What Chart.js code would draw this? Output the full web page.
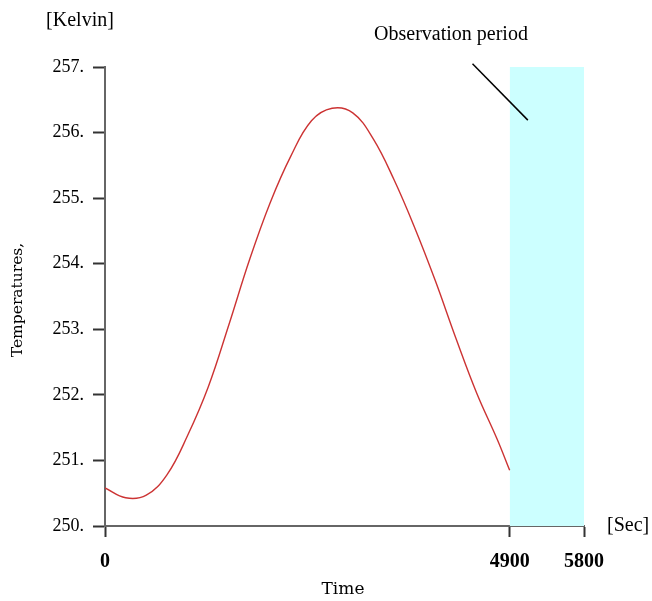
<!DOCTYPE html>
<html>
<head>
<meta charset="utf-8">
<script src="https://cdn.jsdelivr.net/npm/chart.js@4/dist/chart.umd.min.js"></script>
<style>
  html, body { margin: 0; padding: 0; background: #fff; }
  #wrap { width: 652px; height: 601px; position: relative; }
</style>
</head>
<body>
<div id="wrap"><canvas id="c" width="652" height="601"></canvas></div>
<script>
// temperature curve (seconds, kelvin)
const timeSec = [0, 250, 500, 750, 1000, 1250, 1500, 1750, 2000, 2250, 2500, 2750, 3000, 3250, 3500, 3750, 4000, 4250, 4500, 4750, 4900];
const tempK = [250.58, 250.43, 250.47, 250.78, 251.38, 252.12, 253.07, 254.06, 254.93, 255.64, 256.18, 256.37, 256.30, 255.90, 255.28, 254.55, 253.74, 252.86, 252.03, 251.32, 250.85];

// observation window and the pointer line to its label
const obsStart = 4900, obsEnd = 5800;
const pointerX = [4450, 5120];
const pointerY = [257.05, 256.19];

const xTicks = [0, 4900, 5800];
const yTicks = [250, 251, 252, 253, 254, 255, 256, 257];

const curve = timeSec.map((t, i) => ({ x: t, y: tempK[i] }));

const serif = "'Liberation Serif', 'Times New Roman', serif";
const slab = "'DejaVu Serif', serif";

// extra texts around the plot
const labelsPlugin = {
  id: 'labels',
  afterDraw(chart) {
    const ctx = chart.ctx;
    ctx.save();
    ctx.fillStyle = '#000';
    ctx.textBaseline = 'middle';
    ctx.textAlign = 'center';
    ctx.font = `20px ${serif}`;
    ctx.fillText('[Kelvin]', 80, 21);
    ctx.fillText('Observation period', 451, 35);
    ctx.textAlign = 'left';
    ctx.fillText('[Sec]', 607, 526);
    ctx.textAlign = 'center';
    ctx.font = `17px ${slab}`;
    ctx.fillText('Time', 343, 590);
    ctx.font = `15.5px ${slab}`;
    ctx.translate(18, 300);
    ctx.rotate(-Math.PI / 2);
    ctx.fillText('Temperatures,', 0, 0);
    ctx.restore();
  }
};

new Chart(document.getElementById('c'), {
  type: 'scatter',
  data: {
    datasets: [
      {
        data: [{ x: obsStart, y: 257 }, { x: obsEnd, y: 257 }],
        showLine: true, fill: 'start',
        backgroundColor: '#ccffff', borderWidth: 0, pointRadius: 0, order: 3
      },
      {
        data: curve,
        showLine: true, borderColor: '#cc3333', borderWidth: 1.4,
        pointRadius: 0, tension: 0.4, order: 1
      },
      {
        data: pointerX.map((x, i) => ({ x, y: pointerY[i] })),
        showLine: true, borderColor: '#000', borderWidth: 1.5,
        pointRadius: 0, clip: false, order: 0
      }
    ]
  },
  options: {
    responsive: false,
    animation: false,
    layout: { padding: { top: 67, right: 68, left: 0, bottom: 0 } },
    plugins: { legend: { display: false }, tooltip: { enabled: false } },
    scales: {
      x: {
        type: 'linear', min: 0, max: 5800,
        afterBuildTicks: s => { s.ticks = xTicks.map(v => ({ value: v })); },
        afterFit: s => { s.height = 75; },
        grid: { drawOnChartArea: false, tickLength: 11, tickColor: '#333', tickWidth: 2 },
        border: { color: '#666', width: 2 },
        ticks: {
          color: '#000', padding: 13, maxRotation: 0, autoSkip: false,
          font: { family: serif, size: 20, weight: 'bold' },
          callback: v => String(v)
        }
      },
      y: {
        type: 'linear', min: 250, max: 257,
        afterBuildTicks: s => { s.ticks = yTicks.map(v => ({ value: v })); },
        afterFit: s => { s.width = 105; },
        grid: { drawOnChartArea: false, tickLength: 12, tickColor: '#333', tickWidth: 2 },
        border: { color: '#666', width: 2 },
        ticks: {
          color: '#000', padding: 9,
          font: { family: serif, size: 18 },
          callback: v => v + '.'
        }
      }
    }
  },
  plugins: [labelsPlugin]
});
</script>
</body>
</html>
